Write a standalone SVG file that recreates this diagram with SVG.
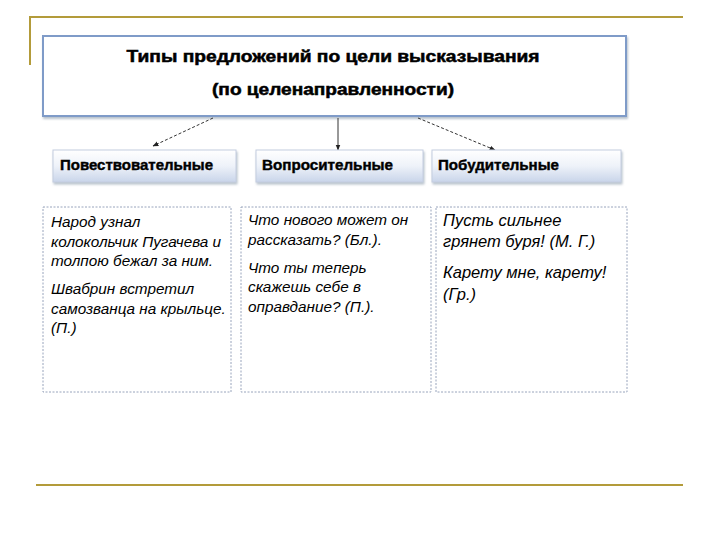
<svg xmlns="http://www.w3.org/2000/svg" width="720" height="540" viewBox="0 0 720 540">
<defs>
<style>
.gold{stroke:#b39b3a;stroke-width:2;fill:none}
.title{font-family:"Liberation Sans",Arial,sans-serif;font-weight:bold;font-size:16px;fill:#000;stroke:#000;stroke-width:0.5}
.cat{font-family:"Liberation Sans",Arial,sans-serif;font-weight:bold;font-size:14px;fill:#000;stroke:#000;stroke-width:0.4}
.ex{font-family:"Liberation Sans",Arial,sans-serif;font-style:italic;font-size:15.3px;fill:#000}
.ex3{font-size:16.5px}
.catbox{fill:url(#g);stroke:#c4cde0;stroke-width:1}
.dbox{fill:#fff;stroke:#98a4bc;stroke-width:1;stroke-dasharray:2 1.5}
.conn{stroke:#333;stroke-width:1;fill:none}
</style>
<linearGradient id="g" x1="0" y1="0" x2="0" y2="1">
<stop offset="0" stop-color="#ffffff"/>
<stop offset="0.5" stop-color="#eef2f9"/>
<stop offset="1" stop-color="#c9d5ea"/>
</linearGradient>
<marker id="ah" viewBox="0 0 10 10" refX="9" refY="5" markerWidth="6" markerHeight="6" orient="auto">
<path d="M0,1 L10,5 L0,9 z" fill="#222"/>
</marker>
<filter id="sh" x="-5%" y="-5%" width="110%" height="120%">
<feDropShadow dx="1" dy="2" stdDeviation="1.2" flood-color="#8899aa" flood-opacity="0.6"/>
</filter>
</defs>
<rect width="720" height="540" fill="#fff"/>
<g id="frame">
<path class="gold" d="M30,65 V17 H683"/>
<line class="gold" x1="36" y1="485" x2="683" y2="485"/>
</g>
<g id="main">
<rect x="43" y="36" width="583" height="80" fill="#fff" stroke="#7f9bc8" stroke-width="2" filter="url(#sh)"/>
<text class="title" x="333" y="62" text-anchor="middle" textLength="413" lengthAdjust="spacingAndGlyphs">Типы предложений по цели высказывания</text>
<text class="title" x="333" y="95" text-anchor="middle" textLength="242" lengthAdjust="spacingAndGlyphs">(по целенаправленности)</text>
</g>
<g id="connectors">
<line class="conn" x1="213" y1="118" x2="153" y2="146" stroke-dasharray="3 2" marker-end="url(#ah)"/>
<line class="conn" x1="338" y1="118" x2="338" y2="150" marker-end="url(#ah)"/>
<line class="conn" x1="418" y1="118" x2="495" y2="150" stroke-dasharray="3 2" marker-end="url(#ah)"/>
</g>
<g id="cat1">
<rect class="catbox" x="53" y="150" width="183" height="32" filter="url(#sh)"/>
<text class="cat" x="60" y="170" textLength="153" lengthAdjust="spacingAndGlyphs">Повествовательные</text>
</g>
<g id="cat2">
<rect class="catbox" x="256" y="150" width="167" height="32" filter="url(#sh)"/>
<text class="cat" x="262" y="170" textLength="131" lengthAdjust="spacingAndGlyphs">Вопросительные</text>
</g>
<g id="cat3">
<rect class="catbox" x="432" y="150" width="189" height="32" filter="url(#sh)"/>
<text class="cat" x="438" y="170" textLength="121" lengthAdjust="spacingAndGlyphs">Побудительные</text>
</g>
<g id="ex1">
<rect class="dbox" x="43" y="207" width="188" height="185"/>
<text class="ex" x="51" y="227">Народ узнал</text>
<text class="ex" x="51" y="247">колокольчик Пугачева и</text>
<text class="ex" x="51" y="266">толпою бежал за ним.</text>
<text class="ex" x="51" y="294">Швабрин встретил</text>
<text class="ex" x="51" y="314">самозванца на крыльце.</text>
<text class="ex" x="51" y="333">(П.)</text>
</g>
<g id="ex2">
<rect class="dbox" x="241" y="207" width="190" height="185"/>
<text class="ex" x="248" y="225">Что нового может он</text>
<text class="ex" x="248" y="245">рассказать? (Бл.).</text>
<text class="ex" x="248" y="273">Что ты теперь</text>
<text class="ex" x="248" y="292">скажешь себе в</text>
<text class="ex" x="248" y="312">оправдание? (П.).</text>
</g>
<g id="ex3">
<rect class="dbox" x="436" y="207" width="191" height="185"/>
<text class="ex ex3" x="443" y="226">Пусть сильнее</text>
<text class="ex ex3" x="443" y="247">грянет буря! (М. Г.)</text>
<text class="ex ex3" x="443" y="278">Карету мне, карету!</text>
<text class="ex ex3" x="443" y="300">(Гр.)</text>
</g>
</svg>
